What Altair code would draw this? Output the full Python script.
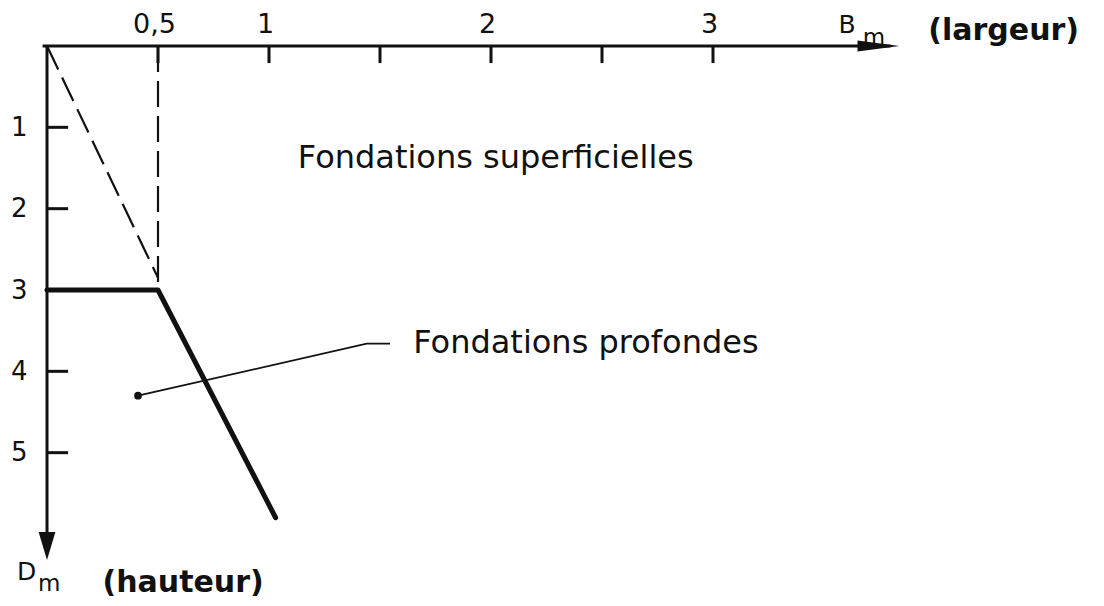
import altair as alt
import pandas as pd

# ---------------- data ----------------
# axis ticks (B in m along the top, D in m down the left)
x_ticks = [0.5, 1, 1.5, 2, 2.5, 3]
x_label_values = [0.5, 1, 2, 3]
y_ticks = [1, 2, 3, 4, 5]

# axes extents and arrow tips (data units)
x_axis_start, x_axis_end, x_arrow_tip = -0.02, 3.80, 3.84
y_axis_start, y_axis_end, y_arrow_tip = -0.01, 6.20, 6.32

# limit line between shallow and deep foundations
limit_x = [0, 0.5, 1.03]
limit_y = [3, 3, 5.8]

# dashed construction lines
diag_x = [0, 0.5]
diag_y = [0, 2.85]
vert_x = [0.5, 0.5]
vert_y = [0, 2.95]

# leader line pointing into the deep-foundation zone
leader_x = [0.41, 1.44, 1.545]
leader_y = [4.3, 3.66, 3.66]

# annotations
zone_text = ["Fondations superficielles", "Fondations profondes"]
zone_x = [1.13, 1.65]
zone_y = [1.38, 3.65]

sym_text = ["B", "D"]
sym_x = [3.565, -0.135]
sym_y = [-0.26, 6.47]

sub_text = ["m", "m"]
sub_x = [3.675, -0.04]
sub_y = [-0.10, 6.62]

title_text = ["(largeur)", "(hauteur)"]
title_x = [3.97, 0.25]
title_y = [-0.18, 6.6]

# ---------------- chart ----------------
FONT = "DejaVu Sans"
INK = "#111111"

xs = alt.Scale(domain=[0, 4.5], nice=False, zero=False)
ys = alt.Scale(domain=[0, 6.75], nice=False, zero=False, reverse=True)

x_axis = alt.Axis(
    orient="top", values=x_label_values, domain=False, ticks=False, tickSize=0,
    grid=False, title=None, labelFont=FONT, labelFontSize=27, labelColor=INK,
    labelPadding=8, labelOffset=-4, labelFlush=False, labelOverlap=False,
    labelExpr="replace(format(datum.value, '~g'), '.', ',')",
)
y_axis = alt.Axis(
    orient="left", values=y_ticks, domain=False, ticks=False, tickSize=0,
    grid=False, title=None, labelFont=FONT, labelFontSize=26, labelColor=INK,
    labelPadding=20, labelFlush=False, labelOverlap=False, format="d",
)


def X(field="x"):
    return alt.X(f"{field}:Q", scale=xs, axis=x_axis)


def Y(field="y"):
    return alt.Y(f"{field}:Q", scale=ys, axis=y_axis)


# axis lines
xaxis_df = pd.DataFrame({"x": [x_axis_start], "x2": [x_axis_end], "y": [0]})
xaxis_line = alt.Chart(xaxis_df).mark_rule(color=INK, strokeWidth=3).encode(
    x=X(), x2="x2:Q", y=Y()
)
yaxis_df = pd.DataFrame({"x": [0], "y": [y_axis_start], "y2": [y_axis_end]})
yaxis_line = alt.Chart(yaxis_df).mark_rule(color=INK, strokeWidth=3).encode(
    x=X(), y=Y(), y2="y2:Q"
)

# arrow heads
xarrow = alt.Chart(pd.DataFrame({"x": [x_arrow_tip], "y": [0]})).mark_point(
    shape="M0,0L-2,-0.26L-2,0.26Z", size=1764, filled=True, color=INK,
    opacity=1, strokeWidth=0,
).encode(x=X(), y=Y())
yarrow = alt.Chart(pd.DataFrame({"x": [0], "y": [y_arrow_tip]})).mark_point(
    shape="M0,0L-0.6,-2L0.6,-2Z", size=784, filled=True, color=INK,
    opacity=1, strokeWidth=0,
).encode(x=X(), y=Y())

# ticks
xt_df = pd.DataFrame({"x": x_ticks, "y": [0] * len(x_ticks), "y2": [0.21] * len(x_ticks)})
xticks = alt.Chart(xt_df).mark_rule(color=INK, strokeWidth=3).encode(
    x=X(), y=Y(), y2="y2:Q"
)
yt_df = pd.DataFrame({"x": [0] * len(y_ticks), "x2": [0.095] * len(y_ticks), "y": y_ticks})
yticks = alt.Chart(yt_df).mark_rule(color=INK, strokeWidth=3).encode(
    x=X(), x2="x2:Q", y=Y()
)

# dashed construction lines
diag = alt.Chart(pd.DataFrame({"x": diag_x, "y": diag_y, "o": [0, 1]})).mark_line(
    color=INK, strokeWidth=2.2, strokeDash=[26, 9]
).encode(x=X(), y=Y(), order="o:Q")
vert = alt.Chart(pd.DataFrame({"x": vert_x, "y": vert_y, "o": [0, 1]})).mark_line(
    color=INK, strokeWidth=2.2, strokeDash=[26, 9]
).encode(x=X(), y=Y(), order="o:Q")

# limit line
limit = alt.Chart(pd.DataFrame({"x": limit_x, "y": limit_y, "o": [0, 1, 2]})).mark_line(
    color=INK, strokeWidth=5, strokeCap="round", strokeJoin="round"
).encode(x=X(), y=Y(), order="o:Q")

# leader line + dot
leader = alt.Chart(pd.DataFrame({"x": leader_x, "y": leader_y, "o": [0, 1, 2]})).mark_line(
    color=INK, strokeWidth=1.8
).encode(x=X(), y=Y(), order="o:Q")
dot = alt.Chart(pd.DataFrame({"x": leader_x[:1], "y": leader_y[:1]})).mark_point(
    filled=True, size=60, color=INK, opacity=1
).encode(x=X(), y=Y())

# texts
zones = alt.Chart(pd.DataFrame({"x": zone_x, "y": zone_y, "t": zone_text})).mark_text(
    align="left", baseline="middle", font=FONT, fontSize=32, color=INK
).encode(x=X(), y=Y(), text="t:N")
syms = alt.Chart(pd.DataFrame({"x": sym_x, "y": sym_y, "t": sym_text})).mark_text(
    align="left", baseline="middle", font=FONT, fontSize=25, color=INK
).encode(x=X(), y=Y(), text="t:N")
subs = alt.Chart(pd.DataFrame({"x": sub_x, "y": sub_y, "t": sub_text})).mark_text(
    align="left", baseline="middle", font=FONT, fontSize=23, color=INK
).encode(x=X(), y=Y(), text="t:N")
titles = alt.Chart(pd.DataFrame({"x": title_x, "y": title_y, "t": title_text})).mark_text(
    align="left", baseline="middle", font=FONT, fontSize=30, fontWeight="bold", color=INK
).encode(x=X(), y=Y(), text="t:N")

chart = alt.layer(
    diag, vert, limit, leader, dot, xticks, yticks, xaxis_line, yaxis_line,
    xarrow, yarrow, zones, syms, subs, titles,
).properties(
    width=999, height=549,
    autosize=alt.AutoSizeParams(type="none"),
    padding={"left": 39, "top": 38, "right": 50, "bottom": 8},
    background="white",
).configure_view(stroke=None)

chart.save("out.html", embed_options={"renderer": "svg", "actions": False})
